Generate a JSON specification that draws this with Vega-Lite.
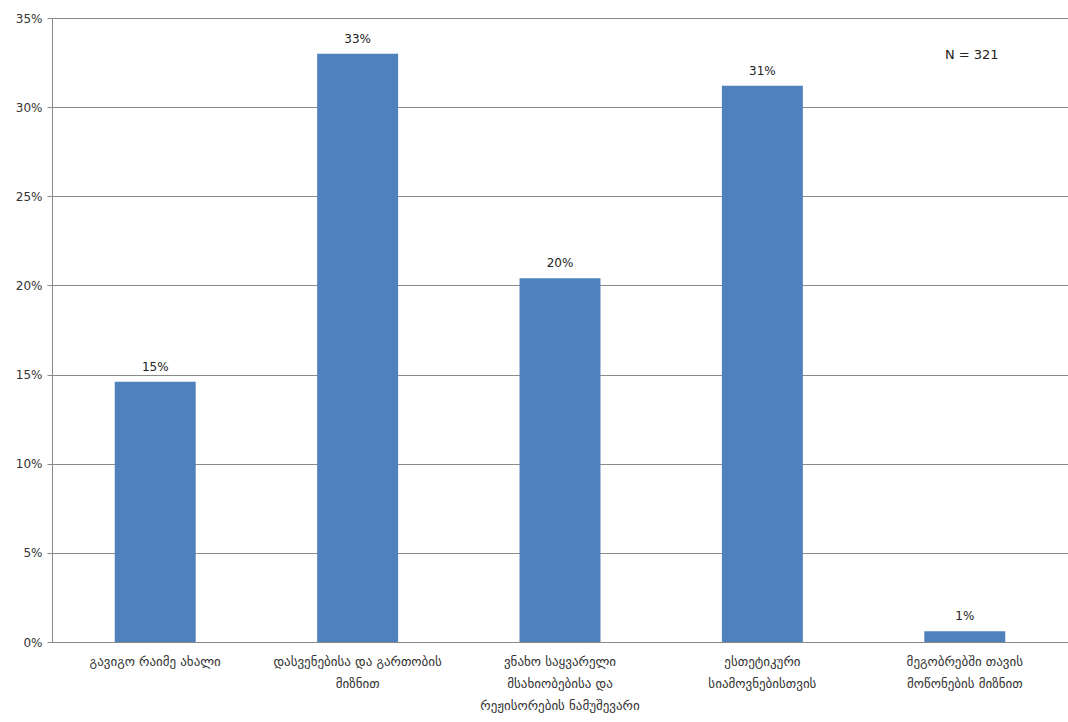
{
  "$schema": "https://vega.github.io/schema/vega-lite/v6.json",
  "width": 1016,
  "height": 624,
  "autosize": "none",
  "padding": {"left": 52, "top": 18, "right": 0, "bottom": 80},
  "background": "white",
  "config": {
    "font": "DejaVu Sans",
    "view": {"stroke": null},
    "axis": {"labelFont": "DejaVu Sans", "labelFontSize": 12, "labelColor": "#333333"}
  },
  "datasets": {
    "bars": [
      {"cat": "გავიგო რაიმე ახალი", "value": 0.146},
      {"cat": "დასვენებისა და გართობის|მიზნით", "value": 0.330},
      {"cat": "ვნახო საყვარელი|მსახიობებისა და|რეჟისორების ნამუშევარი", "value": 0.204},
      {"cat": "ესთეტიკური|სიამოვნებისთვის", "value": 0.312},
      {"cat": "მეგობრებში თავის|მოწონების მიზნით", "value": 0.006}
    ],
    "note": [
      {"cat": "მეგობრებში თავის|მოწონების მიზნით", "value": 0.329, "label": "N = 321"}
    ]
  },
  "layer": [
    {
      "data": {"name": "bars"},
      "mark": {"type": "bar", "color": "#4F81BD"},
      "encoding": {
        "x": {
          "field": "cat", "type": "nominal", "sort": null,
          "scale": {"paddingInner": 0.6, "paddingOuter": 0.31},
          "axis": {
            "title": null, "labelAngle": 0, "ticks": false, "domain": true,
            "domainColor": "#888888", "labelPadding": 13, "labelLineHeight": 22,
            "labelFontSize": 13,
            "labelExpr": "split(datum.label, '|')", "labelLimit": 300
          }
        },
        "y": {
          "field": "value", "type": "quantitative",
          "scale": {"domain": [0, 0.35], "nice": false},
          "axis": {
            "title": null, "format": ".0%", "values": [0, 0.05, 0.1, 0.15, 0.2, 0.25, 0.3, 0.35],
            "grid": true, "gridColor": "#8a8a8a", "domainColor": "#888888",
            "tickColor": "#888888", "tickSize": 5, "labelPadding": 5
          }
        }
      }
    },
    {
      "data": {"name": "bars"},
      "mark": {"type": "text", "baseline": "bottom", "dy": -8, "fontSize": 12, "color": "#222222"},
      "encoding": {
        "x": {"field": "cat", "type": "nominal", "sort": null},
        "y": {"field": "value", "type": "quantitative"},
        "text": {"field": "value", "type": "quantitative", "format": ".0%"}
      }
    },
    {
      "data": {"name": "note"},
      "mark": {"type": "text", "baseline": "middle", "fontSize": 13, "color": "#222222", "dx": 7},
      "encoding": {
        "x": {"field": "cat", "type": "nominal", "sort": null},
        "y": {"field": "value", "type": "quantitative"},
        "text": {"field": "label"}
      }
    }
  ]
}
